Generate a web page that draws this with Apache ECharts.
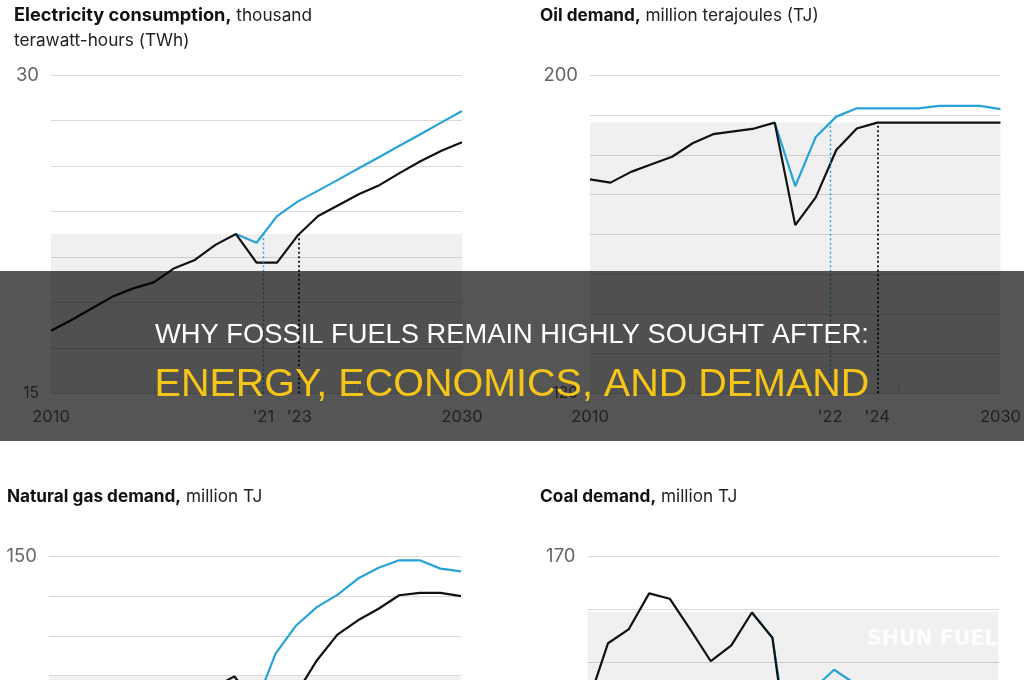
<!DOCTYPE html>
<html><head><meta charset="utf-8">
<script src="https://cdn.jsdelivr.net/npm/echarts@6/dist/echarts.min.js"></script>
<style>html,body{margin:0;padding:0;background:#fff;overflow:hidden;width:1024px;height:680px}#c{width:1024px;height:920px}</style>
</head><body><div id="c"></div>
<script>
// ---------- DATA ----------
const years = [2010,2011,2012,2013,2014,2015,2016,2017,2018,2019,2020,2021,2022,2023,2024,2025,2026,2027,2028,2029,2030];

// Electricity consumption, thousand TWh
const elecBase = [17.95,18.46,19.01,19.56,19.95,20.23,20.90,21.29,22.00,22.51,21.16,21.16,22.44,23.36,23.88,24.40,24.83,25.41,25.96,26.44,26.84];
const elecFast = [null,null,null,null,null,null,null,null,null,22.51,22.10,23.36,24.04,24.56,25.09,25.63,26.16,26.70,27.23,27.78,28.32];
const elecBandTop = 22.51;
const elecMarkYears = [2020.33, 2022.08];
const elecXTicks = [2010, 2020.33, 2022.08, 2030];
const elecXLabels = ['2010', "'21", "'23", '2030'];
const elecYRange = [15, 30];

// Oil demand, million TJ
const oilBase = [173.8,173.0,175.7,177.6,179.5,182.9,185.2,185.9,186.6,188.1,162.3,169.3,181.2,186.6,188.1,188.1,188.1,188.1,188.1,188.1,188.1];
const oilFast = [null,null,null,null,null,null,null,null,null,188.1,172.1,184.5,189.6,191.7,191.7,191.7,191.7,192.3,192.3,192.3,191.5];
const oilBandTop = 188.1;
const oilMarkYears = [2021.7, 2024.0];
const oilXTicks = [2010, 2021.7, 2024.0, 2030];
const oilXLabels = ['2010', "'22", "'24", '2030'];
const oilYRange = [120, 200];

// Natural gas demand, million TJ
const gasBase = [100.0,102.0,104.5,106.0,107.0,109.0,111.0,114.0,117.0,119.8,113.0,112.0,115.4,123.8,130.3,133.9,136.8,140.2,140.8,140.8,140.0];
const gasFast = [null,null,null,null,null,null,null,null,null,119.8,112.3,125.5,132.6,137.2,140.3,144.4,147.1,149.0,149.0,146.9,146.2];
const gasBandTop = 119.8;
const gasXTicks = [2010, 2030];
const gasXLabels = ['2010', '2030'];
const gasYRange = [70, 150];

// Coal demand, million TJ
const coalBase = [156.0,161.8,163.1,166.5,166.0,163.1,160.1,161.6,164.7,162.3,148.0,150.5,153.0,154.0,154.5,154.0,153.5,153.0,152.5,152.0,151.5];
const coalFast = [null,null,null,null,null,null,null,null,164.7,162.3,149.5,157.5,159.3,158.0,156.5,155.5,155.0,154.5,154.0,153.5,153.0];
const coalBandTop = 164.8;
const coalXTicks = [2010, 2030];
const coalXLabels = ['2010', '2030'];
const coalYRange = [140, 170];

const headline1 = 'WHY FOSSIL FUELS REMAIN HIGHLY SOUGHT AFTER:';
const headline2 = 'ENERGY, ECONOMICS, AND DEMAND';
const watermark = 'SHUN FUEL';

// ---------- STYLE / LAYOUT ----------
const FONT = 'Inter, "Liberation Sans", Arial, sans-serif';
const BLUE = '#28a3d8';
const BLACK = '#111111';

const panels = [
  { titleB: 'Electricity consumption,', titleR: ' thousand', titleR2: 'terawatt-hours (TWh)', bSize: 18.2,
    base: elecBase, fast: elecFast, band: elecBandTop, marks: elecMarkYears, xt: elecXTicks, xl: elecXLabels,
    yr: elecYRange, interval: (elecYRange[1]-elecYRange[0])/7,
    grid: {left: 51, top: 75.3, width: 411, height: 318}, tpos: {left: 14, top: 3} },
  { titleB: 'Oil demand,', titleR: ' million terajoules (TJ)', bSize: 17.2,
    base: oilBase, fast: oilFast, band: oilBandTop, marks: oilMarkYears, xt: oilXTicks, xl: oilXLabels,
    yr: oilYRange, interval: 10,
    grid: {left: 590, top: 75.3, width: 412, height: 318}, tpos: {left: 540, top: 3.5} },
  { titleB: 'Natural gas demand,', titleR: ' million TJ', bSize: 17.2,
    base: gasBase, fast: gasFast, band: gasBandTop, marks: [], xt: gasXTicks, xl: gasXLabels,
    yr: gasYRange, interval: 10,
    grid: {left: 49, top: 556.3, width: 412, height: 318}, tpos: {left: 7, top: 484.5} },
  { titleB: 'Coal demand,', titleR: ' million TJ', bSize: 17.2,
    base: coalBase, fast: coalFast, band: coalBandTop, marks: [], xt: coalXTicks, xl: coalXLabels,
    yr: coalYRange, interval: 5,
    grid: {left: 587.5, top: 556.3, width: 411, height: 318}, tpos: {left: 540, top: 484.5} }
];

const option = {
  animation: false,
  backgroundColor: '#ffffff',
  title: [], grid: [], xAxis: [], yAxis: [], series: [],
  graphic: []
};

panels.forEach((p, i) => {
  option.title.push({
    left: p.tpos.left, top: p.tpos.top, padding: 0,
    text: '{b|' + p.titleB + '}{r|' + p.titleR + '}' + (p.titleR2 ? '\n{r|' + p.titleR2 + '}' : ''),
    textStyle: {
      rich: {
        b: {fontFamily: FONT, fontWeight: 'bold', fontSize: p.bSize, color: '#111', lineHeight: 25},
        r: {fontFamily: FONT, fontWeight: 'normal', fontSize: 17.2, color: '#222', lineHeight: 25}
      }
    }
  });
  option.grid.push(Object.assign({containLabel: false}, p.grid));
  option.xAxis.push({
    type: 'value', gridIndex: i, min: 2010, max: 2030,
    splitLine: {show: false}, axisLine: {show: false},
    axisTick: {show: true, inside: true, length: 7, customValues: [2015, 2020, 2025], lineStyle: {color: '#c8c8c8', width: 1}},
    axisLabel: {
      customValues: p.xt, margin: 15.5, fontFamily: FONT, fontSize: 16.5, color: '#666',
      formatter: (v) => { let k = 0, d = 1e9; p.xt.forEach((t, j) => { if (Math.abs(t - v) < d) { d = Math.abs(t - v); k = j; } }); return p.xl[k]; }
    }
  });
  option.yAxis.push({
    type: 'value', gridIndex: i, min: p.yr[0], max: p.yr[1], interval: p.interval,
    axisLine: {show: false}, axisTick: {show: false},
    splitLine: {show: true, lineStyle: {color: '#d9d9d9', width: 1}},
    axisLabel: {
      customValues: p.yr, margin: 12, fontFamily: FONT, color: '#666', fontSize: 18,
      formatter: (v) => Math.abs(v - p.yr[1]) < 1e-6 ? '{m|' + p.yr[1] + '}' : '{s|' + p.yr[0] + '}',
      rich: {m: {fontSize: 18.5, fontFamily: FONT, color: '#666'}, s: {fontSize: 15.5, fontFamily: FONT, color: '#666'}}
    }
  });
  // shaded pre-crisis band
  option.series.push({
    type: 'line', xAxisIndex: i, yAxisIndex: i, data: [], z: 1, silent: true,
    markArea: {silent: true, itemStyle: {color: 'rgba(0,0,0,0.06)'},
      data: [[{coord: [2010, p.yr[0]]}, {coord: [2030, p.band]}]]}
  });
  // blue (faster recovery) line
  option.series.push({
    type: 'line', xAxisIndex: i, yAxisIndex: i, z: 3, symbol: 'none', silent: true,
    data: years.map((y, k) => [y, p.fast[k]]),
    lineStyle: {color: BLUE, width: 2.2}, connectNulls: false,
    markLine: p.marks.length ? {silent: true, symbol: 'none', label: {show: false},
      lineStyle: {color: BLUE, type: [2, 2.5], width: 1.4},
      data: [[{coord: [p.marks[0], p.yr[0]]}, {coord: [p.marks[0], p.band]}]]} : undefined
  });
  // black (base) line
  option.series.push({
    type: 'line', xAxisIndex: i, yAxisIndex: i, z: 4, symbol: 'none', silent: true,
    data: years.map((y, k) => [y, p.base[k]]),
    lineStyle: {color: BLACK, width: 2.2},
    markLine: p.marks.length ? {silent: true, symbol: 'none', label: {show: false},
      lineStyle: {color: '#111', type: [2, 2.5], width: 1.8},
      data: [[{coord: [p.marks[1], p.yr[0]]}, {coord: [p.marks[1], p.band]}]]} : undefined
  });
});

option.graphic = [
  {type: 'text', z: 50, left: 867, top: 629,
   style: {text: watermark, fill: 'rgba(255,255,255,0.85)', font: 'bold 20.5px "DejaVu Sans", sans-serif'}},
  {type: 'rect', z: 100, left: 0, top: 271, shape: {width: 1024, height: 170},
   style: {fill: 'rgba(0,0,0,0.667)'}},
  {type: 'text', z: 101, left: 'center', top: 321.5,
   style: {text: headline1, fill: '#ffffff', font: '27.3px "Liberation Sans", Arial, sans-serif'}},
  {type: 'text', z: 101, left: 'center', top: 365,
   style: {text: headline2, fill: '#f5c518', font: '39.5px "Liberation Sans", Arial, sans-serif'}}
];

const chart = echarts.init(document.getElementById('c'), null, {renderer: 'canvas'});
chart.setOption(option);
</script>
</body></html>
